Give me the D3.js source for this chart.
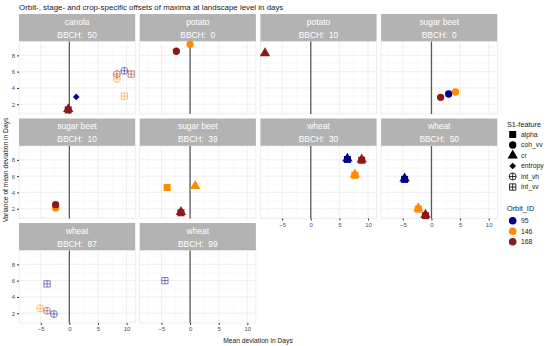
<!DOCTYPE html>
<html>
<head>
<meta charset="utf-8">
<script src="https://cdn.jsdelivr.net/npm/d3@7"></script>
<style>
  body { margin: 0; background: #fff; }
  text { font-family: "Liberation Sans", Arial, sans-serif; }
</style>
</head>
<body>
<div id="chart"></div>
<script>
// facet panels
const crops = ["canola", "potato", "potato", "sugar beet", "sugar beet", "sugar beet", "wheat", "wheat", "wheat", "wheat"];
const bbch = [50, 0, 10, 0, 10, 39, 30, 50, 87, 99];

// points: panel index, S1 feature, orbit, mean deviation, variance
const ptPanel   = [0, 0, 0, 0, 0, 0, 0, 0, 1, 1, 2, 3, 3, 3, 4, 4, 5, 5, 5, 5, 6, 6, 6, 6, 6, 6, 7, 7, 7, 7, 7, 7, 8, 8, 8, 8, 9];
const ptFeature = ["alpha", "cr", "entropy", "int_vh", "int_vh", "int_vh", "int_vv", "int_vv", "coh_vv", "coh_vv", "cr", "coh_vv", "coh_vv", "coh_vv", "coh_vv", "coh_vv", "alpha", "cr", "alpha", "cr",
                   "alpha", "cr", "alpha", "cr", "alpha", "cr", "alpha", "cr", "alpha", "cr", "alpha", "cr", "int_vv", "int_vh", "int_vh", "int_vh", "int_vv"];
const ptOrbit   = [168, 168, 95, 146, 168, 95, 168, 146, 168, 146, 168, 168, 95, 146, 146, 168, 146, 146, 168, 168,
                   95, 95, 168, 168, 146, 146, 95, 95, 146, 146, 168, 168, 95, 146, 168, 95, 95];
const ptMean    = [-0.2, -0.2, 1.2, 8.3, 8.3, 9.6, 10.8, 9.6, -2.4, 0.0, -8.0, 1.6, 3.0, 4.2, -2.4, -2.4, -4.0, 0.9, -1.6, -1.6,
                   6.4, 6.4, 8.9, 8.9, 7.7, 7.7, -4.7, -4.7, -2.3, -2.3, -1.05, -1.05, -3.9, -5.1, -3.9, -2.7, -4.4];
const ptVar     = [1.3, 1.4, 2.9, 5.1, 5.7, 6.1, 5.7, 3.0, 8.5, 9.35, 8.25, 2.85, 3.25, 3.5, 2.1, 2.5, 4.6, 4.8, 1.5, 1.6,
                   8.05, 8.15, 7.95, 8.05, 6.1, 6.2, 5.6, 5.7, 1.95, 2.05, 1.15, 1.25, 5.6, 2.6, 2.3, 1.9, 6.0];

const features = ["alpha", "coh_vv", "cr", "entropy", "int_vh", "int_vv"];
const orbits = [95, 146, 168];
const orbitColors = ["#00008B", "#FF8C00", "#8B1A1A"];
const xTicks = [-5, 0, 5, 10];
const yTicks = [2, 4, 6, 8];

const width = 550, height = 346;
const left = 19, panelW = 116.2, gapX = 4.5;
const top0 = 14, stripH = 27.5, plotH = 72.5, rowStep = 104.5;

const svg = d3.select("#chart").append("svg")
  .attr("width", width).attr("height", height);

const x = d3.scaleLinear().domain([-8.8, 11.5]).range([0, panelW]);
const y = d3.scaleLinear().domain([0.8, 9.7]).range([plotH, 0]);
const color = d3.scaleOrdinal().domain(orbits).range(orbitColors);

// shape path, centred at 0,0
function shapePath(f, s) {
  const r = s / 2;
  if (f === "alpha") return `M${-r},${-r}H${r}V${r}H${-r}Z`;
  if (f === "coh_vv") return d3.symbol(d3.symbolCircle, Math.PI * r * r * 1.1)();
  if (f === "cr") return d3.symbol(d3.symbolTriangle, s * s * 0.95)();
  if (f === "entropy") { const d = r * 0.95; return `M0,${-d}L${d},0L0,${d}L${-d},0Z`; }
  if (f === "int_vh") return d3.symbol(d3.symbolCircle, Math.PI * r * r)() + `M${-r},0H${r}M0,${-r}V${r}`;
  if (f === "int_vv") { const q = r * 0.9; return `M${-q},${-q}H${q}V${q}H${-q}ZM${-q},0H${q}M0,${-q}V${q}`; }
}
const hollow = f => f === "int_vh" || f === "int_vv";

svg.append("text")
  .attr("x", 19).attr("y", 9.5)
  .attr("font-size", 7.9).attr("fill", "#1a1a1a")
  .text("Orbit-, stage- and crop-specific offsets of maxima at landscape level in days");

const points = ptPanel.map((p, i) => ({ panel: p, feature: ptFeature[i], orbit: ptOrbit[i], mx: ptMean[i], vy: ptVar[i] }));

crops.forEach((crop, i) => {
  const col = i % 4, row = Math.floor(i / 4);
  const px = left + col * (panelW + gapX);
  const sy = top0 + row * rowStep;
  const py = sy + stripH;

  // strip
  svg.append("rect").attr("x", px).attr("y", sy).attr("width", panelW).attr("height", stripH).attr("fill", "#b3b3b3");
  svg.append("text").attr("x", px + panelW / 2).attr("y", sy + 10.6).attr("text-anchor", "middle")
    .attr("font-size", 8.4).attr("fill", "#fff").text(crop);
  svg.append("text").attr("x", px + panelW / 2).attr("y", sy + 23.5).attr("text-anchor", "middle")
    .attr("font-size", 8.4).attr("fill", "#fff").attr("xml:space", "preserve").text("BBCH:  " + bbch[i]);

  const g = svg.append("g").attr("transform", `translate(${px},${py})`);
  g.append("rect").attr("width", panelW).attr("height", plotH).attr("fill", "#fff");

  // minor grid
  [-7.5, -2.5, 2.5, 7.5].forEach(v => g.append("line").attr("x1", x(v)).attr("x2", x(v)).attr("y1", 0).attr("y2", plotH)
    .attr("stroke", "#f4f4f4").attr("stroke-width", 0.5));
  [1, 3, 5, 7, 9].forEach(v => g.append("line").attr("y1", y(v)).attr("y2", y(v)).attr("x1", 0).attr("x2", panelW)
    .attr("stroke", "#f4f4f4").attr("stroke-width", 0.5));
  // major grid
  xTicks.forEach(v => g.append("line").attr("x1", x(v)).attr("x2", x(v)).attr("y1", 0).attr("y2", plotH)
    .attr("stroke", "#ebebeb").attr("stroke-width", 0.8));
  yTicks.forEach(v => g.append("line").attr("y1", y(v)).attr("y2", y(v)).attr("x1", 0).attr("x2", panelW)
    .attr("stroke", "#ebebeb").attr("stroke-width", 0.8));
  g.append("rect").attr("width", panelW).attr("height", plotH).attr("fill", "none").attr("stroke", "#e3e3e3").attr("stroke-width", 0.6);

  // zero line
  g.append("line").attr("x1", x(0)).attr("x2", x(0)).attr("y1", 0).attr("y2", plotH)
    .attr("stroke", "#595959").attr("stroke-width", 1.3);

  // points
  g.selectAll("path.pt").data(points.filter(d => d.panel === i)).enter().append("path")
    .attr("class", "pt")
    .attr("transform", d => `translate(${x(d.mx)},${y(d.vy)})`)
    .attr("d", d => shapePath(d.feature, 7))
    .attr("fill", d => hollow(d.feature) ? "none" : color(d.orbit))
    .attr("stroke", d => hollow(d.feature) ? color(d.orbit) : "none")
    .attr("stroke-opacity", 0.55)
    .attr("stroke-width", 0.9);

  // axes
  if (col === 0) {
    const ya = g.append("g").call(d3.axisLeft(y).tickValues(yTicks).tickSize(2).tickPadding(2));
    ya.select(".domain").remove();
    ya.selectAll("line").attr("stroke", "#333");
    ya.selectAll("text").attr("font-size", 6).attr("fill", "#4d4d4d").attr("font-family", "Liberation Sans, Arial, sans-serif");
  }
  const below = i + 4;
  if (below >= crops.length) {
    const xa = g.append("g").attr("transform", `translate(0,${plotH})`)
      .call(d3.axisBottom(x).tickValues(xTicks).tickSize(2).tickPadding(2));
    xa.select(".domain").remove();
    xa.selectAll("line").attr("stroke", "#333");
    xa.selectAll("text").attr("font-size", 6).attr("fill", "#4d4d4d").attr("font-family", "Liberation Sans, Arial, sans-serif");
  }
});

// axis titles
svg.append("text").attr("x", 258).attr("y", 343).attr("text-anchor", "middle")
  .attr("font-size", 6.7).attr("fill", "#1a1a1a").text("Mean deviation in Days");
svg.append("text").attr("transform", "translate(7.5,170) rotate(-90)").attr("text-anchor", "middle")
  .attr("font-size", 6.7).attr("fill", "#1a1a1a").text("Variance of mean deviation in Days");

// legends
const lg = svg.append("g");
lg.append("text").attr("x", 507).attr("y", 127).attr("font-size", 7.3).attr("fill", "#1a1a1a").text("S1-feature");
features.forEach((f, k) => {
  const cy = 134.5 + k * 10.5;
  lg.append("path").attr("transform", `translate(512.7,${cy})`).attr("d", shapePath(f, 7))
    .attr("fill", hollow(f) ? "none" : "#000").attr("stroke", hollow(f) ? "#000" : "none").attr("stroke-width", 0.8);
  lg.append("text").attr("x", 521).attr("y", cy + 2.4).attr("font-size", 6.8).attr("fill", "#1a1a1a").text(f);
});
lg.append("text").attr("x", 507).attr("y", 211).attr("font-size", 7.3).attr("fill", "#1a1a1a").text("Orbit_ID");
orbits.forEach((o, k) => {
  const cy = 220.8 + k * 10.5;
  lg.append("circle").attr("cx", 512.7).attr("cy", cy).attr("r", 3.8).attr("fill", color(o));
  lg.append("text").attr("x", 521).attr("y", cy + 2.4).attr("font-size", 6.8).attr("fill", "#1a1a1a").text(o);
});
</script>
</body>
</html>
